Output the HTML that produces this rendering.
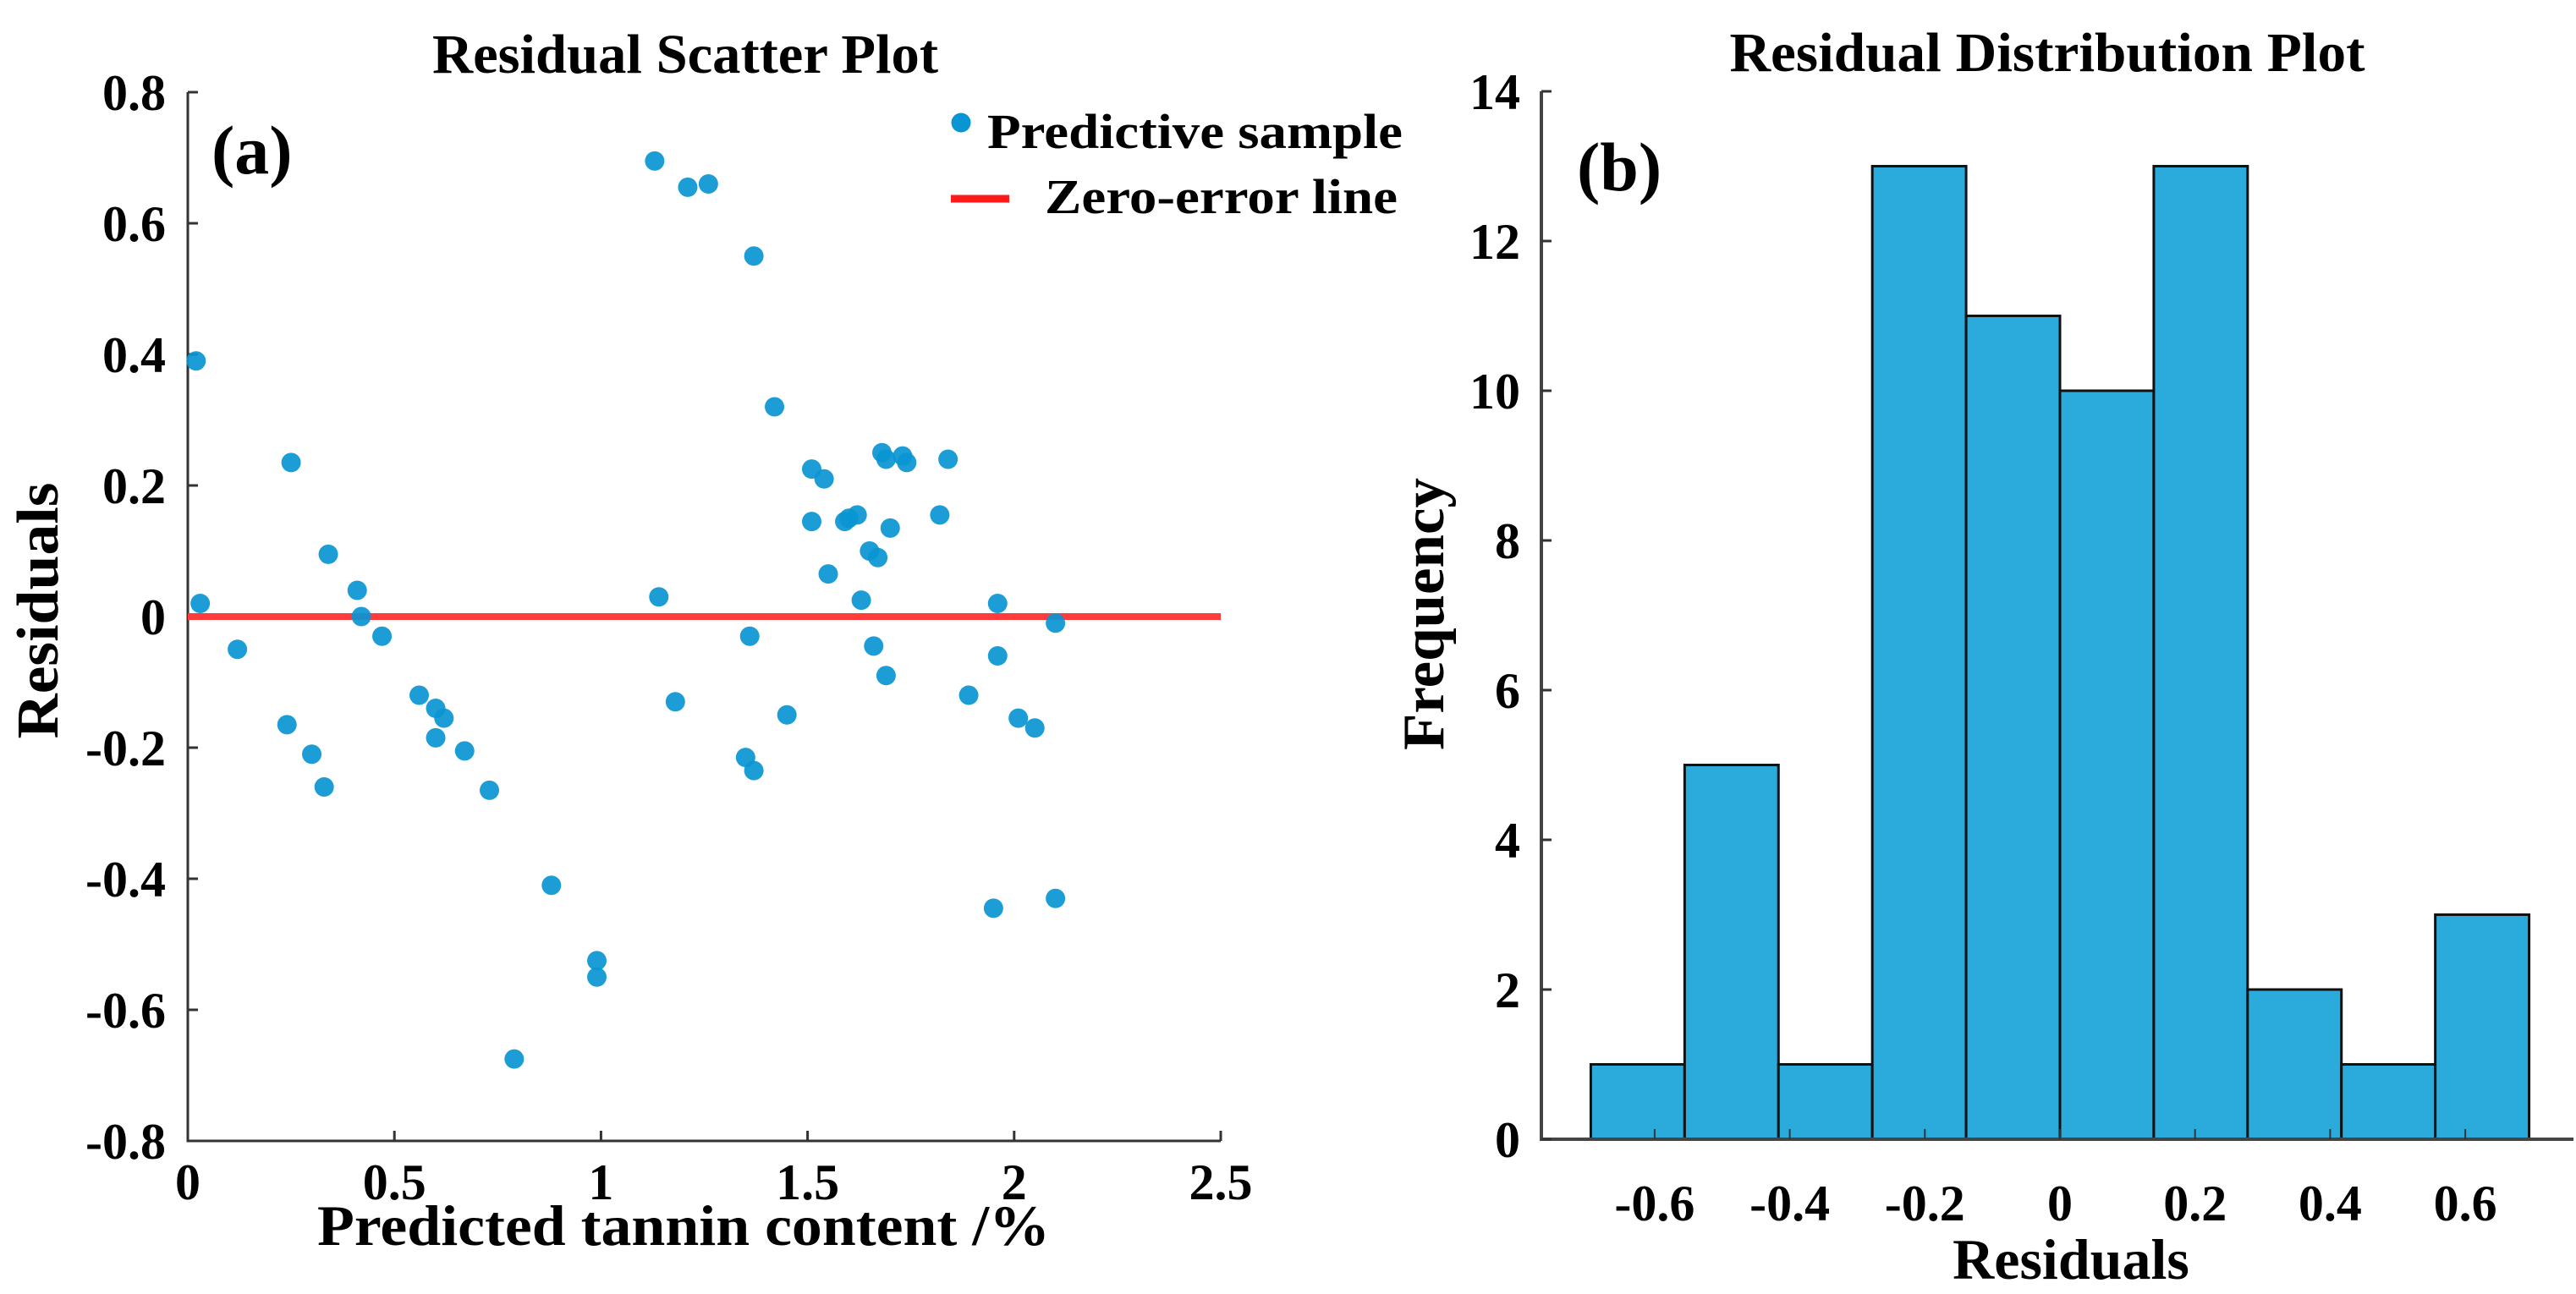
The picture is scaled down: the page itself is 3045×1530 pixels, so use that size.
<!DOCTYPE html>
<html><head><meta charset="utf-8"><style>
html,body{margin:0;padding:0;background:#fff;}
svg{display:block;font-family:"Liberation Serif",serif;}
</style></head><body>
<svg id="c" width="3045" height="1530" viewBox="0 0 3045 1530" xmlns="http://www.w3.org/2000/svg">
<g id="left"></g>
<g id="right"></g>
</svg>
<script>
// ---- scatter data ----
const predX = [0.02,0.03,0.12,0.24,0.25,0.30,0.33,0.34,0.41,0.42,0.47,0.56,0.60,0.62,0.60,0.67,0.73,0.79,0.88,0.99,0.99,1.13,1.14,1.18,1.21,1.26,1.35,1.36,1.37,1.37,1.42,1.45,1.51,1.54,1.51,1.55,1.59,1.60,1.62,1.63,1.65,1.66,1.67,1.68,1.69,1.69,1.70,1.73,1.74,1.82,1.84,1.89,1.95,1.96,1.96,2.01,2.05,2.10,2.10];
const residY = [0.39,0.02,-0.05,-0.165,0.235,-0.21,-0.26,0.095,0.04,0.0,-0.03,-0.12,-0.14,-0.155,-0.185,-0.205,-0.265,-0.675,-0.41,-0.525,-0.55,0.695,0.03,-0.13,0.655,0.66,-0.215,-0.03,-0.235,0.55,0.32,-0.15,0.225,0.21,0.145,0.065,0.145,0.15,0.155,0.025,0.10,-0.045,0.09,0.25,0.24,-0.09,0.135,0.245,0.235,0.155,0.24,-0.12,-0.445,0.02,-0.06,-0.155,-0.17,-0.01,-0.43];
const scatterXTicks = [0,0.5,1,1.5,2,2.5];
const scatterXTickLabels = ["0","0.5","1","1.5","2","2.5"];
const scatterYTicks = [-0.8,-0.6,-0.4,-0.2,0,0.2,0.4,0.6,0.8];
const scatterYTickLabels = ["-0.8","-0.6","-0.4","-0.2","0","0.2","0.4","0.6","0.8"];
// ---- histogram data ----
const binEdges = [-0.6945,-0.5556,-0.4167,-0.2778,-0.1389,0,0.1389,0.2778,0.4167,0.5556,0.6945];
const binCounts = [1,5,1,13,11,10,13,2,1,3];
const histXTicks = [-0.6,-0.4,-0.2,0,0.2,0.4,0.6];
const histXTickLabels = ["-0.6","-0.4","-0.2","0","0.2","0.4","0.6"];
const histYTicks = [0,2,4,6,8,10,12,14];
const histYTickLabels = ["0","2","4","6","8","10","12","14"];

const NS="http://www.w3.org/2000/svg";
function mk(parent,tag,attrs,text){const e=document.createElementNS(NS,tag);for(const k in attrs)e.setAttribute(k,attrs[k]);if(text!==undefined)e.textContent=text;parent.appendChild(e);return e;}

// ---- left axes ----
const L=document.getElementById('left');
const lx=v=>222+v*(1443-222)/2.5;
const ly=v=>729-v*(1349-109)/1.6;
let t;
t=mk(L,'text',{x:810,y:86,'text-anchor':'middle','font-size':66,'font-weight':'bold',textLength:598,lengthAdjust:'spacingAndGlyphs'},'Residual Scatter Plot');


let ax=mk(L,'path',{d:`M${lx(0)},${ly(0.8)} V${ly(-0.8)} H${lx(2.5)}`,fill:'none',stroke:'#333',"stroke-width":3});


scatterXTicks.forEach((v,i)=>{
  const k=mk(L,'line',{x1:lx(v),x2:lx(v),y1:ly(-0.8),y2:ly(-0.8)-12,stroke:'#333','stroke-width':3});
  
  
  const l=mk(L,'text',{x:lx(v),y:1418,'text-anchor':'middle','font-size':60,'font-weight':'bold'},scatterXTickLabels[i]);
  
  
});
scatterYTicks.forEach((v,i)=>{
  const k=mk(L,'line',{x1:lx(0),x2:lx(0)+12,y1:ly(v),y2:ly(v),stroke:'#333','stroke-width':3});
  
  
  const l=mk(L,'text',{x:196,y:ly(v)+21,'text-anchor':'end','font-size':60,'font-weight':'bold'},scatterYTickLabels[i]);
  
  
});
t=mk(L,'text',{x:808,y:1472,'text-anchor':'middle','font-size':68,'font-weight':'bold',textLength:866,lengthAdjust:'spacingAndGlyphs'},'Predicted tannin content /%');


t=mk(L,'text',{x:0,y:0,'text-anchor':'middle','font-size':70,'font-weight':'bold',transform:'translate(68,722) rotate(-90)',textLength:303,lengthAdjust:'spacingAndGlyphs'},'Residuals');


let zl=mk(L,'line',{x1:lx(0),x2:lx(2.5),y1:ly(0),y2:ly(0),stroke:'#ff3b3b','stroke-width':8});


predX.forEach((v,i)=>{
  const c=mk(L,'circle',{cx:lx(v),cy:ly(residY[i]),r:11.5,fill:'#0995d3','fill-opacity':0.92});
  
  
});
t=mk(L,'text',{x:250,y:205,'font-size':82,'font-weight':'bold'},'(a)');


let lg=mk(L,'g',{});


let e1=mk(lg,'circle',{cx:1136,cy:145,r:11.5,fill:'#0995d3'});


t=mk(lg,'text',{x:1167,y:175,'font-size':58,'font-weight':'bold',textLength:491,lengthAdjust:'spacingAndGlyphs'},'Predictive sample');


let e2=mk(lg,'line',{x1:1124,x2:1193,y1:235,y2:235,stroke:'#ff1a1a','stroke-width':9});


t=mk(lg,'text',{x:1235,y:252,'font-size':58,'font-weight':'bold',textLength:417,lengthAdjust:'spacingAndGlyphs'},'Zero-error line');



// ---- right axes ----
const R=document.getElementById('right');
const rx=v=>2435+v*798.5;
const ry=v=>1347-v*(1347-108)/14;
t=mk(R,'text',{x:2420,y:84,'text-anchor':'middle','font-size':66,'font-weight':'bold',textLength:751,lengthAdjust:'spacingAndGlyphs'},'Residual Distribution Plot');


binCounts.forEach((c,i)=>{
  const x0=rx(binEdges[i]),x1=rx(binEdges[i+1]);
  const b=mk(R,'rect',{x:x0,y:ry(c),width:x1-x0,height:ry(0)-ry(c),fill:'#2aabdb',stroke:'#111','stroke-width':3});
  
  
});
ax=mk(R,'path',{d:`M1822,${ry(14)} V${ry(0)} H3042`,fill:'none',stroke:'#444',"stroke-width":4});


histXTicks.forEach((v,i)=>{
  const k=mk(R,'line',{x1:rx(v),x2:rx(v),y1:ry(0),y2:ry(0)-12,stroke:'#333','stroke-width':2});
  
  
  const l=mk(R,'text',{x:rx(v),y:1443,'text-anchor':'middle','font-size':60,'font-weight':'bold'},histXTickLabels[i]);
  
  
});
histYTicks.forEach((v,i)=>{
  const k=mk(R,'line',{x1:1822,x2:1834,y1:ry(v),y2:ry(v),stroke:'#333','stroke-width':3});
  
  
  const l=mk(R,'text',{x:1797,y:ry(v)+21,'text-anchor':'end','font-size':60,'font-weight':'bold'},histYTickLabels[i]);
  
  
});
t=mk(R,'text',{x:2448,y:1512,'text-anchor':'middle','font-size':68,'font-weight':'bold'},'Residuals');


t=mk(R,'text',{x:0,y:0,'text-anchor':'middle','font-size':70,'font-weight':'bold',transform:'translate(1706,726) rotate(-90)',textLength:322,lengthAdjust:'spacingAndGlyphs'},'Frequency');


t=mk(R,'text',{x:1864,y:225,'font-size':82,'font-weight':'bold'},'(b)');


</script>
</body></html>
